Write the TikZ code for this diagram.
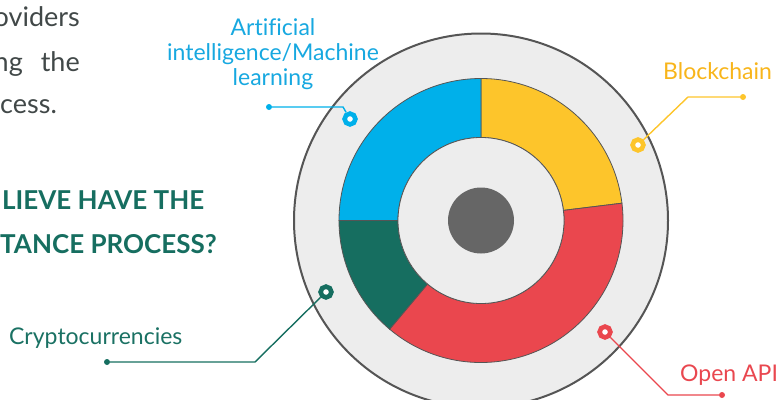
\documentclass[tikz,border=0pt]{standalone}
\usepackage{fontspec}
\setmainfont{Lato}[Ligatures=CommonOff]
\definecolor{cblue}{HTML}{00B0EA}
\definecolor{cbluetxt}{HTML}{17A8E0}
\definecolor{cyel}{HTML}{FDC52B}
\definecolor{cyeltxt}{HTML}{F8B51B}
\definecolor{cred}{HTML}{EA474E}
\definecolor{credtxt}{HTML}{E9474F}
\definecolor{cgreen}{HTML}{166E60}
\definecolor{cgreentxt}{HTML}{1A7163}
\definecolor{cgray}{HTML}{EDEDED}
\definecolor{cline}{HTML}{555555}
\definecolor{cdark}{HTML}{666666}
\definecolor{ctext}{HTML}{414848}
\begin{document}
\begin{tikzpicture}[x=1pt,y=-1pt,
  ringmark/.style={circle, draw=#1, fill=white, line width=4.6pt, minimum size=10.8pt, inner sep=0pt},
  enddot/.style={circle, fill=#1, minimum size=6pt, inner sep=0pt},
  conn/.style={draw=#1, line width=1.4pt},
  lbl/.style={text=#1, font=\fontsize{23}{25}\selectfont, inner sep=0pt},
  bodytxt/.style={text=ctext, font=\fontsize{27}{30}\selectfont, inner sep=0pt},
  headtxt/.style={text=cgreen, font=\bfseries\fontsize{26}{30}\selectfont, inner sep=0pt},
]
\useasboundingbox (0,0) rectangle (776,399);
\clip (0,0) rectangle (776,399);
% left text
\node[bodytxt, anchor=base east] (t1) at (80,26) {oviders};
\node[bodytxt, anchor=base east] (t2) at (80,71) {\spaceskip=18pt ng the};
\node[bodytxt, anchor=base west] (t3) at (0,113) {cess.};
\node[headtxt, anchor=base west] (h1) at (2,209) {LIEVE HAVE THE};
\node[headtxt, anchor=base west] (h2) at (0,253) {TANCE PROCESS?};
% donut
\begin{scope}[shift={(481,220.5)}, y=1pt]
  \filldraw[fill=cgray, draw=cline, line width=2pt] (0,0) circle[radius=187];
  \foreach \a/\b/\c in {7/90/cyel, 90/180/cblue, 180/230/cgreen, 230/367/cred}
    \filldraw[fill=\c, draw=cline, line width=0.8pt] (\a:142) arc[start angle=\a, end angle=\b, radius=142] -- (\b:83) arc[start angle=\b, end angle=\a, radius=83] -- cycle;
  \filldraw[fill=cgray, draw=cline, line width=0.8pt] (0,0) circle[radius=83];
  \fill[cdark] (0,0) circle[radius=33];
\end{scope}
% labels
\node[lbl=cbluetxt, align=center, anchor=north] (lai) at (273,18) {Artificial\\intelligence/Machine\\learning};
\node[lbl=cyeltxt, anchor=base west] (lbc) at (663,79) {Blockchain};
\node[lbl=credtxt, anchor=base west] (lapi) at (680,381) {Open API};
\node[lbl=cgreentxt, anchor=base west] (lcr) at (9,344) {Cryptocurrencies};
% markers
\node[ringmark=cblue] (mb) at (350,119) {};
\node[ringmark=cyel] (my) at (638,145) {};
\node[ringmark=cgreen] (mg) at (326,292) {};
\node[ringmark=cred] (mr) at (605,332) {};
% end dots
\node[enddot=cblue] (db) at (269,107) {};
\node[enddot=cyel] (dy) at (743,97) {};
\node[enddot=cgreen] (dg) at (107,362) {};
\node[enddot=cred] (dr) at (722,395) {};
\coordinate (kb) at (343,107);
\coordinate (ky) at (688,97);
\coordinate (kg) at (255,362);
\coordinate (kr) at (668,395);
% connectors
\draw[conn=cblue] (db) -- (kb) -- (mb);
\draw[conn=cyel] (my) -- (ky) -- (dy);
\draw[conn=cgreen] (mg) -- (kg) -- (dg);
\draw[conn=cred] (mr) -- (kr) -- (dr);
\end{tikzpicture}
\end{document}
